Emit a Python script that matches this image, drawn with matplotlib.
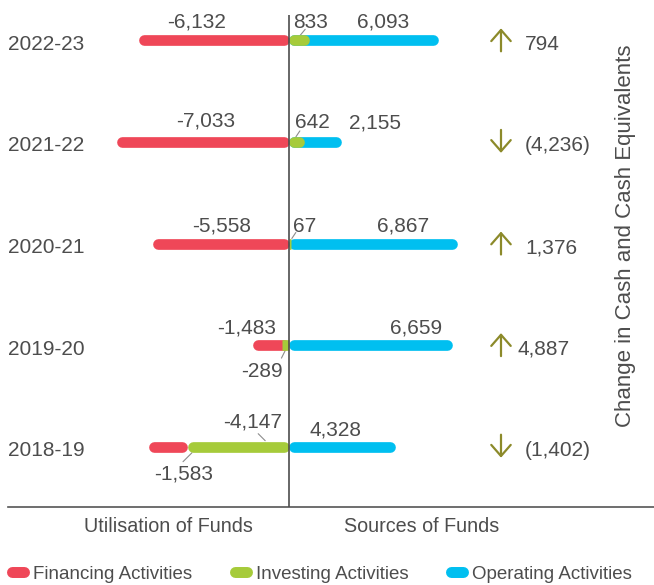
import matplotlib.pyplot as plt
from matplotlib.lines import Line2D
from matplotlib.transforms import offset_copy

# values in Rs. crore, oldest year at the bottom
years = ["2018-19", "2019-20", "2020-21", "2021-22", "2022-23"]
financing = [-1583, -1483, -5558, -7033, -6132]
investing = [-4147, -289, 67, 642, 833]
operating = [4328, 6659, 6867, 2155, 6093]
net_change = [-1402, 4887, 1376, -4236, 794]

RED = "#EF4758"
GREEN = "#A6CB3A"
BLUE = "#00BFF0"
OLIVE = "#8C8A2A"
TXT = "#4D4D4D"

plt.rcParams["font.family"] = ["Liberation Sans", "DejaVu Sans"]

W, H = 654, 585
fig = plt.figure(figsize=(W / 100, H / 100), dpi=100)

# pixel layout: zero line at x=289, 0.0245 px per unit, rows 101.6 px apart
zero_px, scale = 289, 0.0245
row_px = 101.6
ax = fig.add_axes([8 / W, (H - 507) / H, (W - 8) / W, (507 - 15) / H])
ax.set_xlim((8 - zero_px) / scale, (W - zero_px) / scale)
ax.set_ylim((446.7 - 507) / row_px, (446.7 - 15) / row_px)
for s in ["top", "left", "right"]:
    ax.spines[s].set_visible(False)
ax.spines["bottom"].set_color("#555555")
ax.spines["bottom"].set_linewidth(1.2)
ax.set_xticks([])
ax.set_yticks([])
ax.axvline(0, color="#4D4D4D", lw=1.2, zorder=4)

BAR_PX = 10.7
cap = BAR_PX / 2 / scale  # round cap radius in data units

# label offsets (pixels) from the centre of each segment
fin_off = [(16, -27.5), (-24, 17), (1, 17.5), (3, 20.5), (-17, 18)]
inv_off = [(14, 24.5), (-24, -26.5), (15, 17.5), (16, 19), (11, 18)]
op_off = [(-7, 17), (45, 17), (30, 17.5), (60, 19), (19, 18)]
# leader lines: (bar end, label end) in pixels from segment centre
inv_lead = [((27, 6), (20, 13)), ((0, -5), (-4, -13)), ((2, 5), (6, 11)),
            ((-1, 5), (3, 11)), ((1, 5), (6, 11))]
fin_lead = [((24, -6), (15, -15)), None, None, None, None]
net_dx = [0, -7, 0, 0, 0]


def px(dx, dy):
    return offset_copy(ax.transData, fig=fig, x=dx, y=dy, units="dots")


def bar(start, end, y, col, z):
    lo, hi = min(start, end), max(start, end)
    if hi - lo > 2 * cap:
        ax.plot([lo + cap, hi - cap], [y, y], color=col, lw=BAR_PX * 0.72,
                solid_capstyle="round", zorder=z)
    else:
        ax.plot([lo, hi], [y, y], color=col, lw=BAR_PX * 0.72,
                solid_capstyle="butt", zorder=z)


for i, yr in enumerate(years):
    inv = investing[i]
    bar(0, inv, i, GREEN, 3)
    segs = [(investing, 0, inv_off, inv_lead)]
    for vals, col, off, lead in [(financing, RED, fin_off, fin_lead),
                                 (operating, BLUE, op_off, [None] * 5)]:
        v = vals[i]
        # drawn from zero behind the investing bar, unless it would be hidden
        start = inv if (v * inv > 0 and abs(inv) > abs(v)) else 0
        bar(start, start + v, i, col, 2)
        segs.append((vals, start, off, lead))

    for vals, start, off, lead in segs:
        v = vals[i]
        c = start + v / 2
        ax.annotate(f"{v:,}", xy=(c, i), xytext=off[i], textcoords="offset pixels",
                    ha="center", va="center", fontsize=15, color=TXT)
        if lead[i] is not None:
            a, b = lead[i]
            ax.annotate("", xy=(c, i), xycoords=px(*a), xytext=(c, i),
                        textcoords=px(*b),
                        arrowprops=dict(arrowstyle="-", color="#8C8C8C", lw=0.8,
                                        shrinkA=0, shrinkB=0), zorder=1)

    ax.annotate(yr, xy=((8 - zero_px) / scale, i), xytext=(0, -4),
                textcoords="offset pixels", ha="left", va="center",
                fontsize=15, color=TXT)

    # change in cash arrow + value
    arr_x = (501 - zero_px) / scale
    up = net_change[i] >= 0
    ax.annotate("", xy=(arr_x, i), xycoords=px(0, 12 if up else -11),
                xytext=(arr_x, i), textcoords=px(0, -11 if up else 12),
                arrowprops=dict(arrowstyle="->,head_length=0.8,head_width=0.7",
                                color=OLIVE, lw=1.6, shrinkA=0, shrinkB=0))
    lbl = f"{net_change[i]:,}" if up else f"({-net_change[i]:,})"
    ax.annotate(lbl, xy=((525 - zero_px) / scale, i), xytext=(net_dx[i], -4),
                textcoords="offset pixels", ha="left", va="center",
                fontsize=15, color=TXT)

fig.text(625 / W, 1 - 236 / H, "Change in Cash and Cash Equivalents",
         rotation=90, ha="center", va="center", fontsize=16, color=TXT)
fig.text(168 / W, 1 - 526 / H, "Utilisation of Funds", ha="center", va="center",
         fontsize=14.2, color=TXT)
fig.text(422 / W, 1 - 526 / H, "Sources of Funds", ha="center", va="center",
         fontsize=14.2, color=TXT)

handles = [Line2D([], [], color=c, lw=7.9, solid_capstyle="round")
           for c in [RED, GREEN, BLUE]]
fig.legend(handles, ["Financing Activities", "Investing Activities",
                     "Operating Activities"],
           loc="center", bbox_to_anchor=(322 / W, 1 - 574 / H), ncol=3,
           frameon=False, handlelength=0.64, handletextpad=0.5,
           columnspacing=2.25, fontsize=13.5, labelcolor=TXT)

fig.savefig("out.png", dpi=100)
